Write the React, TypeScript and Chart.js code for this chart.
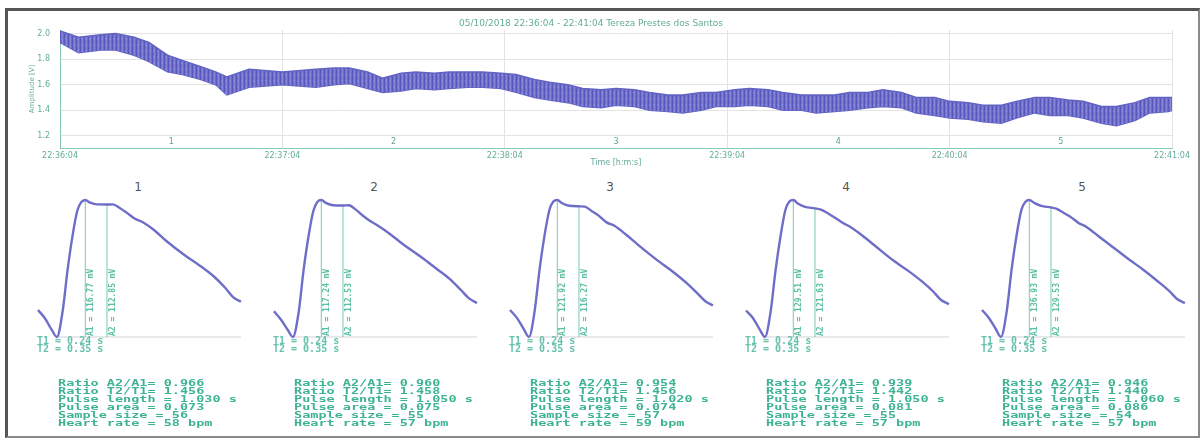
import React, { useEffect, useRef } from "react";
import { Chart, registerables } from "chart.js";

Chart.register(...registerables);
Chart.defaults.font.family = "'DejaVu Sans', sans-serif";

// ---------- top recording ----------
const titleText = "05/10/2018 22:36:04 - 22:41:04 Tereza Prestes dos Santos";
const xTickSeconds = [0, 60, 120, 180, 240, 300];
const xTickLabels = ["22:36:04", "22:37:04", "22:38:04", "22:39:04", "22:40:04", "22:41:04"];
const yTicks = [1.2, 1.4, 1.6, 1.8, 2.0];
const segmentLabels = ["1", "2", "3", "4", "5"];
const segmentCenters = [30, 90, 150, 210, 270];

const bandTimes = [0, 5, 11, 15, 20, 24, 29, 33, 38, 42, 45, 51, 60, 69, 74, 78, 83, 87, 92, 96, 101, 105, 110, 114, 119, 123, 128, 132, 137, 141, 146, 150, 155, 159, 164, 168, 173, 177, 182, 186, 191, 195, 200, 204, 209, 213, 218, 222, 227, 231, 236, 240, 245, 249, 254, 258, 263, 267, 272, 276, 281, 285, 290, 294, 299, 300];
const bandUpper = [2.02, 1.97, 1.99, 2.0, 1.97, 1.93, 1.83, 1.79, 1.74, 1.7, 1.66, 1.72, 1.7, 1.72, 1.73, 1.73, 1.7, 1.65, 1.69, 1.7, 1.69, 1.7, 1.7, 1.7, 1.69, 1.68, 1.64, 1.62, 1.6, 1.57, 1.56, 1.57, 1.56, 1.54, 1.52, 1.52, 1.54, 1.54, 1.56, 1.57, 1.56, 1.54, 1.52, 1.52, 1.52, 1.54, 1.54, 1.56, 1.54, 1.5, 1.5, 1.47, 1.46, 1.44, 1.44, 1.47, 1.5, 1.5, 1.48, 1.47, 1.43, 1.43, 1.46, 1.5, 1.5, 1.5];
const bandLower = [1.93, 1.85, 1.87, 1.87, 1.83, 1.78, 1.7, 1.68, 1.64, 1.6, 1.52, 1.58, 1.6, 1.58, 1.6, 1.61, 1.57, 1.54, 1.55, 1.57, 1.56, 1.57, 1.58, 1.58, 1.57, 1.54, 1.5, 1.48, 1.46, 1.43, 1.42, 1.44, 1.43, 1.4, 1.39, 1.38, 1.4, 1.43, 1.43, 1.44, 1.43, 1.4, 1.4, 1.38, 1.39, 1.4, 1.42, 1.43, 1.42, 1.38, 1.36, 1.34, 1.33, 1.31, 1.3, 1.34, 1.38, 1.36, 1.36, 1.34, 1.3, 1.28, 1.32, 1.38, 1.39, 1.4];

// ---------- averaged pulses ----------
const pulseTimes = [0, 0.035, 0.07, 0.096, 0.125, 0.15, 0.175, 0.2, 0.22, 0.24, 0.265, 0.3, 0.35, 0.38, 0.415, 0.45, 0.49, 0.53, 0.59, 0.65, 0.75, 0.82, 0.89, 0.95, 0.99, 1.03];
const pulse1 = [23, 16, 6, 0, 22, 57, 86, 108, 115, 116.8, 114.5, 113, 112.9, 113, 110, 106, 101, 98, 91, 82, 69, 61, 52, 42, 34, 30];
const pulse2 = [22, 15, 6, 0, 21, 57, 86, 108, 115.5, 117.2, 114.5, 112.8, 112.5, 112.8, 109, 104, 99, 95, 88, 80, 68, 59, 50, 40, 33, 29];
const pulse3 = [24, 17, 7, 0, 23, 60, 90, 113, 120.5, 121.9, 119, 116.8, 116.3, 116, 112, 108, 102, 99, 91, 82, 68, 59, 49, 39, 32, 28];
const pulse4 = [25, 18, 7, 0, 24, 63, 95, 120, 128, 129.5, 126, 123, 121.6, 120.5, 117, 113, 108, 104, 96, 87, 72, 63, 53, 43, 35, 31];
const pulse5 = [27, 19, 8, 0, 25, 67, 101, 127, 135, 136.9, 134, 131, 129.5, 128, 124, 120, 114, 110, 101, 92, 77, 67, 56, 46, 38, 34];
const pulses = [pulse1, pulse2, pulse3, pulse4, pulse5];

const panelNames = ["1", "2", "3", "4", "5"];
const a1Values = [116.77, 117.24, 121.92, 129.51, 136.93];
const a2Values = [112.85, 112.53, 116.27, 121.63, 129.53];
const t1Values = [0.24, 0.24, 0.24, 0.24, 0.24];
const t2Values = [0.35, 0.35, 0.35, 0.35, 0.35];
const ratioA = ["0.966", "0.960", "0.954", "0.939", "0.946"];
const ratioT = ["1.456", "1.458", "1.456", "1.442", "1.440"];
const pulseLength = ["1.030", "1.050", "1.020", "1.050", "1.060"];
const pulseArea = ["0.073", "0.075", "0.074", "0.081", "0.086"];
const sampleSize = ["56", "55", "57", "55", "54"];
const heartRate = ["58", "57", "59", "57", "57"];

const TEAL = "#64ad9a";
const PANEL_STEP = 236;

function makeStripePattern(): any {
  const c = document.createElement("canvas");
  c.width = 4;
  c.height = 6;
  const g = c.getContext("2d");
  if (!g) return "rgba(100,100,200,0.92)";
  const cols = ["#5858bf", "#6f6fcb", "#8787d6", "#6a6ac8"];
  cols.forEach((col, i) => {
    g.fillStyle = col;
    g.fillRect(i, 0, 1, 6);
  });
  g.fillStyle = "rgba(140,140,220,0.5)";
  g.fillRect(1, 2, 2, 2);
  return g.createPattern(c, "repeat");
}

function TopChart() {
  const ref = useRef<HTMLCanvasElement>(null);
  useEffect(() => {
    if (!ref.current) return;
    const segPlugin = {
      id: "segmentNumbers",
      afterDraw(chart: any) {
        const { ctx, scales } = chart;
        ctx.save();
        ctx.fillStyle = "#5aa884";
        ctx.font = "8px 'DejaVu Sans'";
        ctx.textAlign = "center";
        ctx.textBaseline = "middle";
        segmentLabels.forEach((s, i) => {
          ctx.fillText(s, scales.x.getPixelForValue(segmentCenters[i]), scales.y.bottom - 6);
        });
        ctx.restore();
      },
    };
    const chart = new Chart(ref.current, {
      type: "line",
      data: {
        datasets: [
          {
            data: bandTimes.map((t, i) => ({ x: t, y: bandUpper[i] })),
            borderColor: "#6262c4",
            backgroundColor: makeStripePattern(),
            borderWidth: 1.5,
            pointRadius: 0,
            fill: "+1",
            tension: 0,
          },
          {
            data: bandTimes.map((t, i) => ({ x: t, y: bandLower[i] })),
            borderColor: "#6262c4",
            borderWidth: 1.5,
            pointRadius: 0,
            fill: false,
            tension: 0,
          },
        ],
      },
      options: {
        responsive: false,
        animation: false,
        events: [],
        layout: { padding: { left: 10, right: 31, top: 12, bottom: 0 } },
        plugins: {
          legend: { display: false },
          tooltip: { enabled: false },
          title: {
            display: true,
            text: titleText,
            color: TEAL,
            font: { size: 9, weight: "normal" },
            padding: { top: 6, bottom: 1.2 },
          },
        },
        scales: {
          x: {
            type: "linear",
            min: 0,
            max: 300,
            afterBuildTicks: (s: any) => {
              s.ticks = xTickSeconds.map((v) => ({ value: v }));
            },
            afterFit: (s: any) => {
              s.height = 24;
              s.paddingLeft = 0;
              s.paddingRight = 0;
            },
            ticks: {
              autoSkip: false,
              maxRotation: 0,
              color: TEAL,
              font: { size: 8 },
              padding: 3,
              callback: (v: any) => {
                const i = xTickSeconds.indexOf(Number(v));
                return i >= 0 ? xTickLabels[i] : "";
              },
            },
            grid: { color: "#e3e3e3", drawTicks: false },
            border: { color: "rgba(110,190,170,0.8)" },
            title: {
              display: true,
              text: "Time [h:m:s]",
              color: TEAL,
              font: { size: 8 },
              padding: { top: 0, bottom: 3.8 },
            },
          },
          y: {
            min: 1.106,
            max: 2.027,
            afterBuildTicks: (s: any) => {
              s.ticks = yTicks.map((v) => ({ value: v }));
            },
            afterFit: (s: any) => {
              s.width = 50;
              s.paddingTop = 0;
              s.paddingBottom = 0;
            },
            ticks: {
              color: TEAL,
              font: { size: 8 },
              padding: 10,
              callback: (v: any) => Number(v).toFixed(1),
            },
            grid: { color: "#e3e3e3", drawTicks: false },
            border: { color: "rgba(110,190,170,0.8)" },
            title: {
              display: true,
              text: "Amplitude [V]",
              color: TEAL,
              font: { size: 7 },
              padding: { top: 17.8, bottom: 0 },
            },
          },
        },
      },
      plugins: [segPlugin],
    } as any);
    return () => chart.destroy();
  }, []);
  return (
    <canvas
      ref={ref}
      width={1203}
      height={172}
      style={{ position: "absolute", left: 0, top: 0, width: 1203, height: 172 }}
    />
  );
}

function PulsePanel({ index }: { index: number }) {
  const ref = useRef<HTMLCanvasElement>(null);
  useEffect(() => {
    if (!ref.current) return;
    const a1 = a1Values[index];
    const a2 = a2Values[index];
    const t1 = t1Values[index];
    const t2 = t2Values[index];
    const values = pulses[index];
    const endT = pulseTimes[pulseTimes.length - 1];
    const labelPlugin = {
      id: "amplitudeLabels",
      afterDatasetsDraw(chart: any) {
        const { ctx, scales } = chart;
        const yb = scales.y.getPixelForValue(0);
        ctx.save();
        ctx.fillStyle = "#5dbea4";
        ctx.font = "bold 8px 'DejaVu Sans Mono'";
        ctx.textAlign = "left";
        ctx.textBaseline = "top";
        [
          [t1, "A1 = " + a1.toFixed(2) + " mV"],
          [t2, "A2 = " + a2.toFixed(2) + " mV"],
        ].forEach(([t, txt]: any) => {
          ctx.save();
          ctx.translate(scales.x.getPixelForValue(t) + 1.5, yb - 1);
          ctx.rotate(-Math.PI / 2);
          ctx.fillText(txt, 0, 0);
          ctx.restore();
        });
        ctx.restore();
      },
    };
    const chart = new Chart(ref.current, {
      type: "line",
      data: {
        datasets: [
          {
            data: pulseTimes.map((t, i) => ({ x: t, y: values[i] })),
            borderColor: "#6e6ec8",
            borderWidth: 2.4,
            pointRadius: 0,
            cubicInterpolationMode: "monotone",
            fill: false,
            order: 0,
          },
          {
            data: [
              { x: pulseTimes[3], y: 0 },
              { x: endT, y: 0 },
            ],
            borderColor: "#d2d2d2",
            borderWidth: 1,
            pointRadius: 0,
            fill: false,
            order: 2,
          },
          {
            data: [
              { x: t1, y: 0 },
              { x: t1, y: a1 },
            ],
            borderColor: "rgba(100,190,165,0.85)",
            borderWidth: 1,
            pointRadius: 0,
            fill: false,
            order: 1,
          },
          {
            data: [
              { x: t2, y: 0 },
              { x: t2, y: a2 },
            ],
            borderColor: "rgba(100,190,165,0.85)",
            borderWidth: 1,
            pointRadius: 0,
            fill: false,
            order: 1,
          },
        ],
      },
      options: {
        responsive: false,
        animation: false,
        events: [],
        layout: { padding: 0 },
        plugins: { legend: { display: false }, tooltip: { enabled: false } },
        scales: {
          x: { type: "linear", display: false, min: -0.0406, max: 1.076 },
          y: { display: false, min: -a1 * 0.0949, max: a1 * 1.073 },
        },
      },
      plugins: [labelPlugin],
    } as any);
    return () => chart.destroy();
  }, [index]);

  const left = index * PANEL_STEP;
  const stats = [
    "Ratio A2/A1= " + ratioA[index],
    "Ratio T2/T1= " + ratioT[index],
    "Pulse length = " + pulseLength[index] + " s",
    "Pulse area = " + pulseArea[index],
    "Sample size = " + sampleSize[index],
    "Heart rate = " + heartRate[index] + " bpm",
  ].join("\n");
  return (
    <>
      <div
        style={{
          position: "absolute",
          left: left + 118,
          top: 179,
          width: 40,
          textAlign: "center",
          fontSize: 12,
          lineHeight: "16px",
          color: "#555",
          fontFamily: "'DejaVu Sans', sans-serif",
        }}
      >
        {panelNames[index]}
      </div>
      <canvas
        ref={ref}
        width={220}
        height={160}
        style={{ position: "absolute", left: left + 30, top: 190, width: 220, height: 160 }}
      />
      <div
        style={{
          position: "absolute",
          left: left + 37,
          top: 337,
          fontFamily: "'DejaVu Sans Mono', monospace",
          fontWeight: "bold",
          fontSize: 10,
          lineHeight: "8px",
          color: "#66c2aa",
          whiteSpace: "pre",
        }}
      >
        {"T1 = " + t1Values[index].toFixed(2) + " s\nT2 = " + t2Values[index].toFixed(2) + " s"}
      </div>
      <div
        style={{
          position: "absolute",
          left: left + 58,
          top: 379,
          fontFamily: "'DejaVu Sans Mono', monospace",
          fontWeight: "bold",
          fontSize: 13.5,
          lineHeight: "12px",
          color: "#3db394",
          whiteSpace: "pre",
          transform: "scaleY(0.667)",
          transformOrigin: "top left",
        }}
      >
        {stats}
      </div>
    </>
  );
}

export default function App() {
  return (
    <div
      style={{
        position: "absolute",
        left: 0,
        top: 0,
        width: 1203,
        height: 439,
        background: "#fff",
        overflow: "hidden",
        fontFamily: "'DejaVu Sans', sans-serif",
      }}
    >
      <div
        style={{
          position: "absolute",
          left: 5,
          top: 8,
          width: 1195,
          height: 430,
          boxSizing: "border-box",
          borderTop: "3px solid #555",
          borderLeft: "3px solid #555",
          borderRight: "2px solid #8a8a8a",
          borderBottom: "2px solid #8a8a8a",
        }}
      />
      <TopChart />
      {[0, 1, 2, 3, 4].map((i) => (
        <PulsePanel key={i} index={i} />
      ))}
    </div>
  );
}
